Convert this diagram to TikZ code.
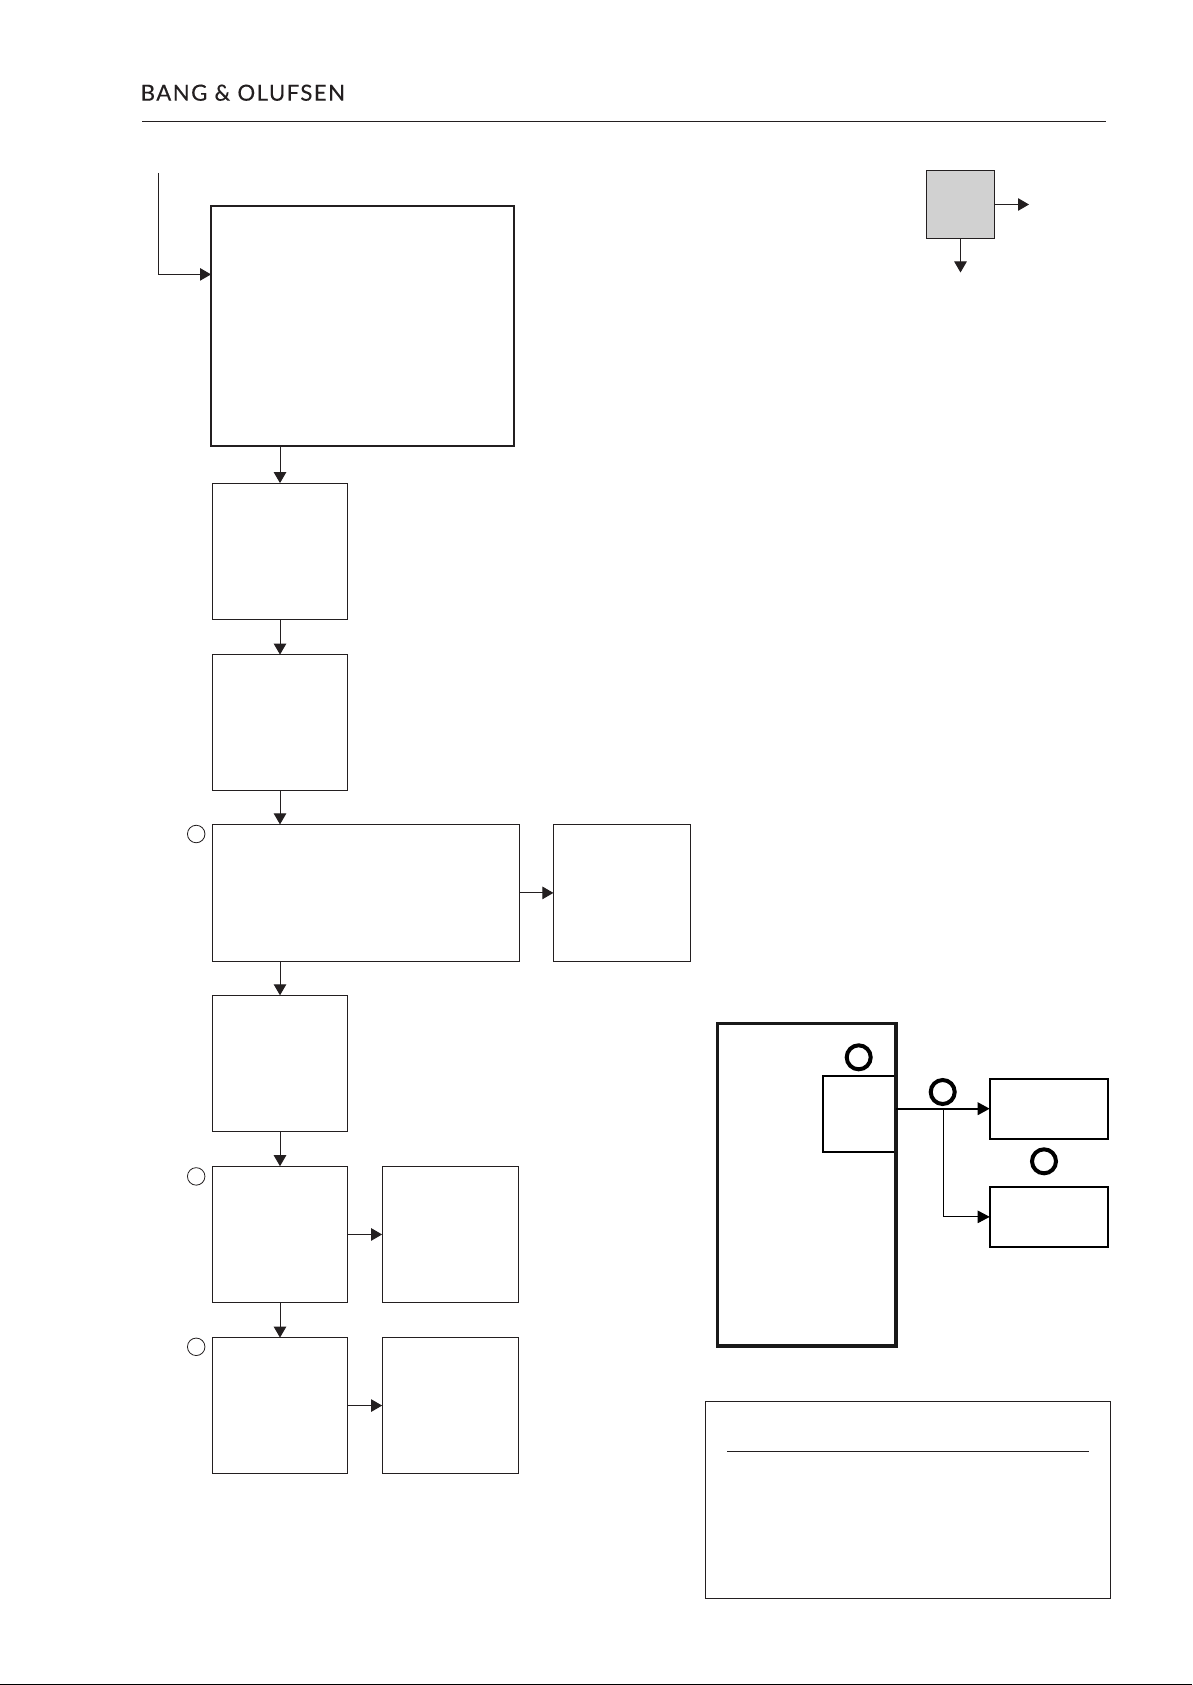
\documentclass[tikz,border=0pt]{standalone}
\usepackage{fontspec}
\setmainfont[LetterSpace=6.5,FakeBold=0.25]{Lato}
\usetikzlibrary{arrows.meta}
\definecolor{ink}{HTML}{231F20}
\tikzset{
  x=1pt,y=-1pt,
  thinbox/.style={draw=ink,line width=1.1pt,fill=white,rectangle,inner sep=0pt,outer sep=0pt},
  heavybox/.style={draw=ink,line width=2pt,fill=white,rectangle,inner sep=0pt,outer sep=0pt},
  mainbox/.style={draw=black!90,line width=3.2pt,rectangle,inner sep=0pt,outer sep=0pt},
  medbox/.style={draw=black,line width=1.6pt,rectangle,fill=white,inner sep=0pt,outer sep=0pt},
  greybox/.style={thinbox,fill=black!18},
  conn/.style={draw=ink,line width=1pt,-{Triangle[length=11pt,width=12.5pt]}},
  connk/.style={draw=black,line width=1pt,-{Triangle[length=12pt,width=12.5pt]}},
  connh/.style={connk,line width=2pt},
  marker/.style={circle,draw=ink,line width=0.8pt,inner sep=0pt,outer sep=0pt,minimum size=17.5pt},
  boldmarker/.style={circle,draw=black,line width=4pt,inner sep=0pt,outer sep=0pt,minimum size=24pt},
}
\newcommand{\bx}[6]{\node[#2,anchor=north west,minimum width={(#5-#3)*1pt},minimum height={(#6-#4)*1pt}] (#1) at (#3,#4) {};}
\begin{document}
\begin{tikzpicture}
\useasboundingbox (0,0) rectangle (1192,1685);
\fill[white] (0,0) rectangle (1192,1685);
\node[anchor=base west,inner sep=0pt,font=\fontsize{22.2}{24}\selectfont,text=ink] (logo) at (140.5,100.7) {BANG \& OLUFSEN};
\coordinate (ruleL) at (142,121.3); \coordinate (ruleR) at (1106,121.3);
\draw[ink,line width=1pt] (ruleL) -- (ruleR);

\bx{b1}{heavybox}{211}{205.7}{514.3}{445.5}
\bx{b2}{thinbox}{212.3}{483.1}{347.7}{619.6}
\bx{b3}{thinbox}{212.3}{654.6}{347.7}{790.5}
\bx{b4}{thinbox}{212.3}{824.4}{519.7}{961.4}
\bx{b4r}{thinbox}{553.4}{824.4}{690.6}{961.4}
\bx{b5}{thinbox}{212.3}{995.3}{347.7}{1131.8}
\bx{b6}{thinbox}{212.3}{1166.2}{347.7}{1302.7}
\bx{b6r}{thinbox}{382.1}{1166.2}{518.6}{1302.7}
\bx{b7}{thinbox}{212.3}{1337.6}{347.7}{1473.5}
\bx{b7r}{thinbox}{382.1}{1337.6}{518.6}{1473.5}

\coordinate (start) at (158.3,173);
\draw[conn] (start) |- (b1.west |- 0,274.4);
\draw[conn] (b1.south -| b2.north) -- (b2.north);
\draw[conn] (b2.south) -- (b3.north);
\draw[conn] (b3.south) -- (b3.south |- b4.north);
\draw[conn] (b4.south -| b5.north) -- (b5.north);
\draw[conn] (b5.south) -- (b6.north);
\draw[conn] (b6.south) -- (b7.north);
\draw[conn] (b4.east) -- (b4r.west);
\draw[conn] (b6.east) -- (b6r.west);
\draw[conn] (b7.east) -- (b7r.west);

\node[marker] (m1) at (196.2,834) {};
\node[marker] (m2) at (196.2,1176.4) {};
\node[marker] (m3) at (196.2,1346.8) {};

\bx{grey}{greybox}{926.3}{170.3}{994.7}{238.7}
\coordinate (greyR) at (1029,204.5); \coordinate (greyD) at (960.5,272.5);
\draw[conn] (grey.east) -- (greyR);
\draw[conn] (grey.south) -- (greyD);

\bx{inner}{medbox}{823}{1075.7}{896}{1152}
\bx{main}{mainbox}{717.8}{1023.3}{896}{1346}
\bx{r1}{medbox}{989.7}{1078.7}{1108.2}{1138.7}
\bx{r2}{medbox}{989.7}{1186.7}{1108.2}{1247}
\coordinate (branch) at (943.3,1108.7);
\draw[connh] (main.east |- r1.west) -- (r1.west);
\draw[connk] (branch) |- (r2.west);
\node[boldmarker] (c1) at (858.7,1057.3) {};
\node[boldmarker] (c2) at (942.7,1092) {};
\node[boldmarker] (c3) at (1044,1161.3) {};

\bx{legend}{thinbox}{705.3}{1401.3}{1110.3}{1598.7}
\coordinate (legL) at (727,1451.3); \coordinate (legR) at (1089,1451.3);
\draw[ink,line width=1pt] (legL) -- (legR);
\coordinate (footL) at (0,1684.4); \coordinate (footR) at (1192,1684.4);
\draw[black,line width=1.2pt] (footL) -- (footR);
\end{tikzpicture}
\end{document}
